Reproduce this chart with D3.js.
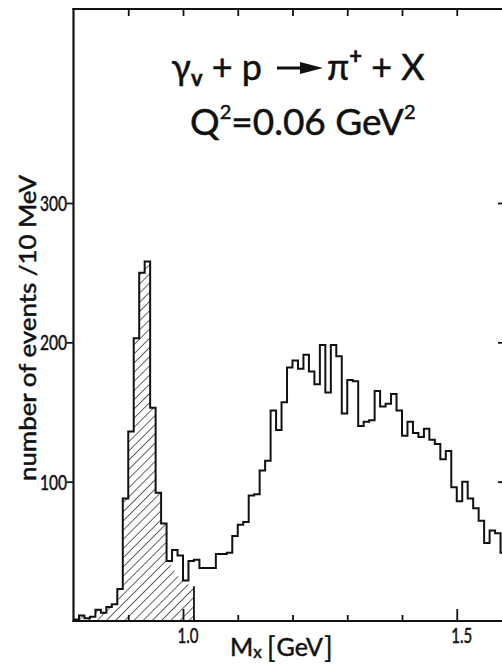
<!DOCTYPE html>
<html>
<head>
<meta charset="utf-8">
<script src="https://cdn.jsdelivr.net/npm/d3@7"></script>
<style>
  html, body { margin: 0; padding: 0; background: #fff; }
  svg { display: block; }
  text { font-family: Lato, "DejaVu Sans", sans-serif; fill: #111; stroke: #111; stroke-width: 0.5px; }
</style>
</head>
<body>
<svg id="chart" width="502" height="667"></svg>
<script>
// Missing-mass spectrum, 10 MeV bins starting at 0.80 GeV
const binStart = 0.80;
const binWidth = 0.01;

// all events per bin
const totalCounts = [
  1, 4, 2, 3, 8, 6, 10, 12, 23, 88,
  136, 203, 250, 258, 153, 92, 70, 43, 51, 47,
  29, 43, 44, 38, 38, 38, 48, 48, 49, 61,
  69, 71, 90, 91, 108, 115, 151, 137, 157, 182,
  187, 181, 191, 179, 170, 198, 164, 198, 190, 149,
  173, 172, 140, 143, 144, 165, 154, 156, 163, 151,
  133, 143, 135, 132, 138, 130, 127, 116, 122, 96,
  86, 100, 88, 81, 72, 56, 65, 63, 49
];

// neutron peak contribution (hatched), 0.80 - 1.02 GeV
const hatchedCounts = [
  1, 4, 2, 3, 8, 6, 10, 12, 23, 88,
  136, 203, 250, 258, 153, 92, 70, 40, 36, 32,
  28, 25
];

const yTickValues = [100, 200, 300];
const yTickLabels = ["100", "200", "300"];
const xLabelValues = [1.0, 1.5];
const xLabelText = ["1.0", "1.5"];
const xMinorTicks = [0.9, 1.1, 1.2, 1.3, 1.4];
const topTicks = [0.9, 1.0, 1.1, 1.2, 1.3, 1.4, 1.5];

const svg = d3.select("#chart");
const ink = "#111";

const x = d3.scaleLinear().domain([1.0, 1.5]).range([183, 456.75]);
const y = d3.scaleLinear().domain([0, 300]).range([621, 203]);

const frameLeft = x(0.8), frameRight = 508, frameTop = 9, frameBottom = y(0);

// hatch pattern
const defs = svg.append("defs");
defs.append("pattern")
  .attr("id", "hatch")
  .attr("patternUnits", "userSpaceOnUse")
  .attr("width", 6.5).attr("height", 6.5)
  .attr("patternTransform", "rotate(45)")
  .append("line")
  .attr("x1", 0).attr("y1", -1).attr("x2", 0).attr("y2", 8)
  .attr("stroke", ink).attr("stroke-width", 1.3);

defs.append("clipPath").attr("id", "plotclip")
  .append("rect").attr("x", frameLeft).attr("y", frameTop)
  .attr("width", frameRight - frameLeft).attr("height", frameBottom - frameTop);

function stepPoints(counts) {
  const pts = counts.map((c, i) => [binStart + i * binWidth, c]);
  pts.push([binStart + counts.length * binWidth, counts[counts.length - 1]]);
  return pts;
}

const plot = svg.append("g").attr("clip-path", "url(#plotclip)");

// hatched area
const hatchPts = stepPoints(hatchedCounts);
plot.append("path")
  .attr("d", d3.area().curve(d3.curveStepAfter)
    .x(d => x(d[0])).y0(y(0)).y1(d => y(d[1]))(hatchPts))
  .attr("fill", "url(#hatch)");

// right edge of the hatched region
const hatchEnd = binStart + hatchedCounts.length * binWidth;
plot.append("line")
  .attr("x1", x(hatchEnd)).attr("x2", x(hatchEnd))
  .attr("y1", y(0)).attr("y2", y(hatchedCounts[hatchedCounts.length - 1]))
  .attr("stroke", ink).attr("stroke-width", 1.8);

// total histogram outline
const totPts = [[binStart, 0]].concat(stepPoints(totalCounts));
plot.append("path")
  .attr("d", d3.line().curve(d3.curveStepAfter)
    .x(d => x(d[0])).y(d => y(d[1]))(totPts))
  .attr("fill", "none")
  .attr("stroke", ink).attr("stroke-width", 2)
  .attr("stroke-linejoin", "miter");

// frame
const frame = svg.append("g").attr("stroke", ink).attr("fill", "none");
frame.append("line").attr("x1", frameLeft).attr("x2", frameLeft).attr("y1", frameTop - 1).attr("y2", frameBottom + 1).attr("stroke-width", 2.2);
frame.append("line").attr("x1", frameLeft - 1).attr("x2", frameRight).attr("y1", frameTop).attr("y2", frameTop).attr("stroke-width", 2.2);
frame.append("line").attr("x1", frameLeft - 1).attr("x2", frameRight).attr("y1", frameBottom).attr("y2", frameBottom).attr("stroke-width", 2.2);
frame.append("line").attr("x1", frameRight).attr("x2", frameRight).attr("y1", frameTop).attr("y2", frameBottom).attr("stroke-width", 2.2);

// bottom axis ticks (inward)
const bottomAxis = d3.axisTop(x).tickValues(xMinorTicks).tickSize(6).tickFormat("");
const gb = svg.append("g").attr("transform", `translate(0,${frameBottom})`).call(bottomAxis);
gb.select(".domain").remove();
gb.selectAll(".tick line").attr("stroke", ink).attr("stroke-width", 1.8);

const bottomMajor = d3.axisTop(x).tickValues(xLabelValues).tickSize(12).tickFormat("");
const gbm = svg.append("g").attr("transform", `translate(0,${frameBottom})`).call(bottomMajor);
gbm.select(".domain").remove();
gbm.selectAll(".tick line").attr("stroke", ink).attr("stroke-width", 1.8);

// x labels
svg.append("g").selectAll("text").data(xLabelValues).join("text")
  .attr("x", d => x(d) + 5).attr("y", 643)
  .attr("text-anchor", "middle")
  .attr("font-size", 22)
  .attr("textLength", 21).attr("lengthAdjust", "spacingAndGlyphs")
  .text((d, i) => xLabelText[i]);

// top ticks (inward)
const topAxis = d3.axisBottom(x).tickValues(topTicks).tickSize(7).tickFormat("");
const gt = svg.append("g").attr("transform", `translate(0,${frameTop})`).call(topAxis);
gt.select(".domain").remove();
gt.selectAll(".tick line").attr("stroke", ink).attr("stroke-width", 1.8);

// left axis ticks and labels
const leftAxis = d3.axisLeft(y).tickValues(yTickValues).tickSize(7).tickFormat("");
const gl = svg.append("g").attr("transform", `translate(${frameLeft},0)`).call(leftAxis);
gl.select(".domain").remove();
gl.selectAll(".tick line").attr("stroke", ink).attr("stroke-width", 1.8);

svg.append("g").selectAll("text").data(yTickValues).join("text")
  .attr("x", 67).attr("y", d => y(d) + 8)
  .attr("text-anchor", "end")
  .attr("font-size", 21)
  .attr("textLength", 27).attr("lengthAdjust", "spacingAndGlyphs")
  .text((d, i) => yTickLabels[i]);

// right axis ticks (inward)
const rightAxis = d3.axisLeft(y).tickValues(yTickValues).tickSize(10).tickFormat("");
const gr = svg.append("g").attr("transform", `translate(${frameRight},0)`).call(rightAxis);
gr.select(".domain").remove();
gr.selectAll(".tick line").attr("stroke", ink).attr("stroke-width", 1.8);

// y axis title
svg.append("text")
  .attr("transform", "translate(36,328) rotate(-90)")
  .attr("text-anchor", "middle")
  .attr("font-size", 23.5)
  .attr("textLength", 306).attr("lengthAdjust", "spacingAndGlyphs")
  .text("number of events /10 MeV");

// x axis title: M_x [GeV]
const xt = svg.append("text").attr("x", 230).attr("y", 656).attr("font-size", 25);
xt.append("tspan").text("M");
xt.append("tspan").attr("font-size", 17).attr("dy", 2).text("x");
xt.append("tspan").attr("font-size", 29).attr("dy", 0).attr("dx", 5).attr("stroke-width", 0.2).text("[");
xt.append("tspan").attr("font-size", 25).attr("dy", -2).attr("dx", 1).text("GeV");
xt.append("tspan").attr("font-size", 29).attr("dy", 2).attr("dx", 1).attr("stroke-width", 0.2).text("]");

// reaction
const r1 = svg.append("text").attr("x", 262).attr("y", 80).attr("text-anchor", "end").attr("font-size", 36);
r1.append("tspan").text("γ");
r1.append("tspan").attr("font-size", 22).attr("font-weight", "bold").attr("dy", 6).text("v");
r1.append("tspan").attr("dy", -6).text(" + p");

// arrow
svg.append("line").attr("x1", 277).attr("x2", 305).attr("y1", 68).attr("y2", 68)
  .attr("stroke", ink).attr("stroke-width", 3);
svg.append("path").attr("d", "M 300 62 L 323 68 L 300 74 Z").attr("fill", ink);

const r2 = svg.append("text").attr("x", 327).attr("y", 80).attr("font-size", 36);
r2.append("tspan").text("π");
r2.append("tspan").attr("font-size", 22).attr("font-weight", "bold").attr("dy", -16).text("+");
r2.append("tspan").attr("dy", 16).text(" + X");

// virtuality
const q = svg.append("text").attr("x", 190).attr("y", 135).attr("font-size", 37);
q.append("tspan").text("Q");
q.append("tspan").attr("font-size", 20).attr("dy", -16).text("2");
q.append("tspan").attr("dy", 16).text("=0.06  GeV");
q.append("tspan").attr("font-size", 20).attr("dy", -16).text("2");
</script>
</body>
</html>
